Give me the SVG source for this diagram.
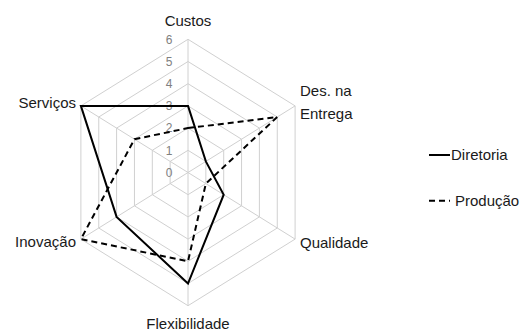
<svg xmlns="http://www.w3.org/2000/svg" width="525" height="331" viewBox="0 0 525 331">
<style>
.grid{fill:none;stroke:#d0d0d0;stroke-width:1}
.s{fill:none;stroke:#000;stroke-width:2;stroke-linejoin:miter}
.d{fill:none;stroke:#000;stroke-width:2;stroke-dasharray:6,4}
.lbl{font-family:"Liberation Sans",Arial,sans-serif;font-size:15px;fill:#1a1a1a}
.tick{font-family:"Liberation Sans",Arial,sans-serif;font-size:12px;fill:#808080;text-anchor:end}
</style>
<rect width="525" height="331" fill="#fff"/>
<g id="grid">
<polygon class="grid" points="188,150.3 205.85,161.4 205.85,183.6 188,194.7 170.15,183.6 170.15,161.4"/>
<polygon class="grid" points="188,128.1 223.7,150.3 223.7,194.7 188,216.9 152.3,194.7 152.3,150.3"/>
<polygon class="grid" points="188,105.9 241.55,139.2 241.55,205.8 188,239.1 134.45,205.8 134.45,139.2"/>
<polygon class="grid" points="188,83.7 259.4,128.1 259.4,216.9 188,261.3 116.6,216.9 116.6,128.1"/>
<polygon class="grid" points="188,61.5 277.25,117 277.25,228 188,283.5 98.75,228 98.75,117"/>
<polygon class="grid" points="188,39.3 295.1,105.9 295.1,239.1 188,305.7 80.9,239.1 80.9,105.9"/>
<path class="grid" d="M188,172.5V39.3M188,172.5L295.1,105.9M188,172.5L295.1,239.1M188,172.5V305.7M188,172.5L80.9,239.1M188,172.5L80.9,105.9"/>
</g>
<g id="ticks">
<text class="tick" x="172.5" y="176.8">0</text>
<text class="tick" x="172.5" y="154.6">1</text>
<text class="tick" x="172.5" y="132.4">2</text>
<text class="tick" x="172.5" y="110.2">3</text>
<text class="tick" x="172.5" y="88">4</text>
<text class="tick" x="172.5" y="65.8">5</text>
<text class="tick" x="172.5" y="43.6">6</text>
</g>
<g id="connectors">
<polygon id="diretoria" class="s" points="188,105.9 205.85,161.4 223.7,194.7 188,283.5 116.6,216.9 80.9,105.9"/>
<polygon id="producao" class="d" points="188,128.1 277.25,117 205.85,183.6 188,261.3 80.9,239.1 134.45,139.2"/>
</g>
<g id="axis-custos"><text class="lbl" x="188" y="26" text-anchor="middle">Custos</text></g>
<g id="axis-entrega"><text class="lbl" x="300" y="96">Des. na</text><text class="lbl" x="300" y="119">Entrega</text></g>
<g id="axis-qualidade"><text class="lbl" x="300" y="247.5">Qualidade</text></g>
<g id="axis-flexibilidade"><text class="lbl" x="188" y="329" text-anchor="middle">Flexibilidade</text></g>
<g id="axis-inovacao"><text class="lbl" x="76" y="247" text-anchor="end">Inovação</text></g>
<g id="axis-servicos"><text class="lbl" x="76" y="108" text-anchor="end">Serviços</text></g>
<g id="legend">
<line class="s" x1="429" y1="155" x2="450" y2="155"/>
<text class="lbl" x="451" y="159.5">Diretoria</text>
<line class="d" x1="429" y1="200.7" x2="450" y2="200.7" stroke-dasharray="7,5"/>
<text class="lbl" x="455" y="206">Produção</text>
</g>
</svg>
